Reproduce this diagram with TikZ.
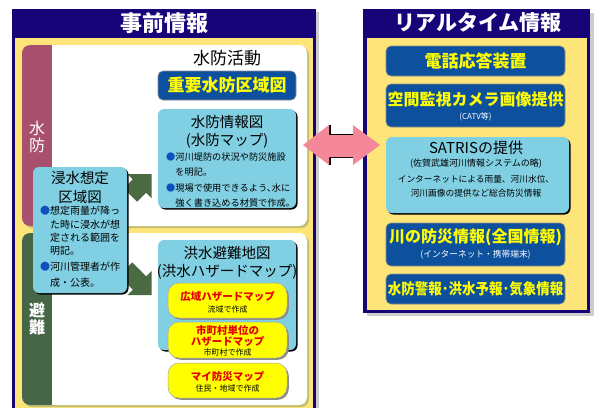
\documentclass[tikz,border=0pt]{standalone}
\usepackage{fontspec}
\setmainfont{Noto Sans CJK JP}
\usetikzlibrary{shadows}
\definecolor{navy}{RGB}{22,4,120}
\definecolor{pyellow}{RGB}{253,229,122}
\definecolor{oliveshd}{RGB}{196,190,112}
\definecolor{maroonstrip}{RGB}{168,80,110}
\definecolor{dgreen}{RGB}{70,102,72}
\definecolor{dblue}{RGB}{12,80,158}
\definecolor{lblue}{RGB}{128,207,226}
\definecolor{ytext}{RGB}{255,255,0}
\definecolor{rtext}{RGB}{230,0,0}
\definecolor{garrow}{RGB}{74,106,66}
\definecolor{pinkarr}{RGB}{244,136,152}
\definecolor{bulblue}{RGB}{16,80,190}
\definecolor{pshadow}{RGB}{205,205,205}
\newcommand{\fsz}[1]{\fontsize{#1}{#1}\selectfont}
\newcommand{\bul}{\textcolor{bulblue}{●}}
\begin{document}
\begin{tikzpicture}[x=1pt,y=-1pt,
  t/.style={inner sep=0pt},
  darkbox/.style={draw=black!45, line width=0.6pt, fill=dblue, rounded corners=5pt, inner sep=0pt},
  lightbox/.style={fill=lblue, rounded corners=6pt, inner sep=0pt,
    drop shadow={shadow xshift=1.5pt, shadow yshift=-1.5pt, fill=black, opacity=1}},
  pill/.style={fill=ytext, draw=black!35, line width=0.5pt, rounded corners=11pt, inner sep=0pt,
    drop shadow={shadow xshift=1.8pt, shadow yshift=-1.8pt, fill=black!45, opacity=1}},
  title/.style={t, text=white, font={\fsz{22}\bfseries}},
  ytxt/.style={t, text=ytext, font={\fsz{17}\bfseries}},
  wsmall/.style={t, text=white, font={\fsz{8.7}}},
  rtxt/.style={t, text=rtext, font={\fsz{10.5}\bfseries}},
  ksmall/.style={t, font={\fsz{8}}}
]
\useasboundingbox (0,0) rectangle (595,408);
\fill[white] (0,0) rectangle (595,408);

% ---------- left panel ----------
\fill[pshadow] (15,12) rectangle (319,408);
\fill[navy] (12,9) rectangle (316,408);
\fill[pyellow] (15,38) rectangle (313,408);
\node[title] (ltitle) at (164,23) {事前情報};

% top white panel
\fill[oliveshd, rounded corners=8pt] (24,47) rectangle (309,228);
\fill[white, rounded corners=8pt] (22,45) rectangle (307,226);
\fill[maroonstrip, rounded corners=8pt] (22,45) rectangle (62,226);
\fill[white] (52,45) rectangle (64,226);
\node[t, text=white, font={\fsz{16}}, align=center] (suibolabel) at (37,137) {水\\[1pt]防};

% bottom white panel
\fill[oliveshd, rounded corners=8pt] (24,235) rectangle (309,407);
\fill[white, rounded corners=8pt] (22,233) rectangle (307,405);
\fill[dgreen, rounded corners=8pt] (22,233) rectangle (62,405);
\fill[white] (52,233) rectangle (64,405);
\node[t, text=white, font={\fsz{16}\bfseries}, align=center] (hinanlabel) at (37,319) {避\\[1pt]難};

% top panel content
\node[t, font={\fsz{17}}] (katsudo) at (227,58) {水防活動};
\node[darkbox, minimum width=138pt, minimum height=29pt] (juyo) at (227,85.5) {};
\node[ytxt] (juyotxt) at (227,85.5) {重要水防区域図};

\node[lightbox, minimum width=138pt, minimum height=99pt] (suibomap) at (227,158.5) {};
\node[t, font={\fsz{14.5}}] (sm1) at (227,122) {水防情報図};
\node[t, font={\fsz{14.5}}] (sm2) at (227,141) {(水防マップ)};
\node[t, anchor=west, font={\fsz{9.2}}] (smb1) at (166,157) {\bul 河川堤防の状況や防災施設};
\node[t, anchor=west, font={\fsz{9.2}}] (smb2) at (175.2,172.5) {を明記。};
\node[t, anchor=west, font={\fsz{9.2}}] (smb3) at (166,188) {\bul 現場で使用できるよう､水に};
\node[t, anchor=west, font={\fsz{9.2}}] (smb4) at (175.2,203) {強く書き込める材質で作成。};

% bottom panel content
\node[lightbox, minimum width=138pt, minimum height=110pt] (kozuimap) at (227,295) {};
\node[t, font={\fsz{14.5}}] (km1) at (227,253) {洪水避難地図};
\node[t, font={\fsz{14.5}}] (km2) at (227,272) {(洪水ハザードマップ)};

\node[pill, minimum width=119pt, minimum height=35pt] (koiki) at (227.5,300.5) {};
\node[rtxt] (koiki1) at (227.5,296) {広域ハザードマップ};
\node[ksmall] (koiki2) at (227.5,309.5) {流域で作成};

\node[pill, minimum width=119pt, minimum height=36pt] (shicho) at (227.5,340) {};
\node[rtxt] (shicho1) at (227.5,330) {市町村単位の};
\node[rtxt] (shicho2) at (227.5,341.5) {ハザードマップ};
\node[ksmall] (shicho3) at (227.5,352) {市町村で作成};

\node[pill, minimum width=119pt, minimum height=35pt] (mybosai) at (227.5,380.5) {};
\node[rtxt] (mybosai1) at (227.5,376) {マイ防災マップ};
\node[ksmall] (mybosai2) at (227.5,388.5) {住民・地域で作成};

% green arrows
\fill[garrow] (151.5,174) -- (127.5,174) -- (132.8,179.3) -- (123.8,188.3) -- (137.2,201.7) -- (146.2,192.7) -- (151.5,198) -- cycle;
\fill[garrow] (151.5,295) -- (127.5,295) -- (132.8,289.7) -- (118.8,275.7) -- (132.2,262.3) -- (146.2,276.3) -- (151.5,271) -- cycle;

% left box
\node[lightbox, minimum width=94pt, minimum height=126pt] (shinsui) at (80,230) {};
\node[t, font={\fsz{14.5}}] (ss1) at (80,178) {浸水想定};
\node[t, font={\fsz{14.5}}] (ss2) at (80,197) {区域図};
\node[t, anchor=west, font={\fsz{10}}] (ssb1) at (40,211) {\bul 想定雨量が降っ};
\node[t, anchor=west, font={\fsz{10}}] (ssb2) at (50,224.5) {た時に浸水が想};
\node[t, anchor=west, font={\fsz{10}}] (ssb3) at (50,238) {定される範囲を};
\node[t, anchor=west, font={\fsz{10}}] (ssb4) at (50,251) {明記。};
\node[t, anchor=west, font={\fsz{10}}] (ssb5) at (40,266.5) {\bul 河川管理者が作};
\node[t, anchor=west, font={\fsz{10}}] (ssb6) at (50,282.5) {成・公表。};

% ---------- right panel ----------
\fill[pshadow] (367,13) rectangle (594,316);
\fill[navy] (363,9) rectangle (590,313);
\fill[pyellow] (367,38) rectangle (587,310);
\node[title, font={\fsz{21}\bfseries}] (rtitle) at (478,23) {リアルタイム情報};

\node[darkbox, minimum width=179pt, minimum height=30pt] (tel) at (475.5,61) {};
\node[ytxt] (teltxt) at (475.5,61) {電話応答装置};

\node[darkbox, minimum width=179pt, minimum height=43pt] (camera) at (475.5,105.5) {};
\node[ytxt, font={\fsz{16}\bfseries}] (camera1) at (475.5,99.5) {空間監視カメラ画像提供};
\node[wsmall, font={\fsz{8}}] (camera2) at (475.5,117) {(CATV等)};

\node[lightbox, minimum width=183pt, minimum height=76pt] (satris) at (477.5,175) {};
\node[t, font={\fsz{15}}] (sat1) at (476,148) {SATRISの提供};
\node[t, font={\fsz{9}}] (sat2) at (476,163.5) {(佐賀武雄河川情報システムの略)};
\node[t, font={\fsz{8.7}}] (sat3) at (476,179) {インターネットによる雨量、河川水位、};
\node[t, font={\fsz{8.7}}] (sat4) at (476,193) {河川画像の提供など総合防災情報};

\node[darkbox, minimum width=179pt, minimum height=43pt] (kawa) at (475.5,244.5) {};
\node[ytxt, font={\fsz{16}\bfseries}] (kawa1) at (475.5,237) {川の防災情報(全国情報)};
\node[wsmall] (kawa2) at (475.5,254.5) {(インターネット・携帯端末)};

\node[darkbox, minimum width=179pt, minimum height=30pt] (keiho) at (475.5,289) {};
\node[ytxt, font={\fsz{15}\bfseries}] (keihotxt) at (475.5,289) {\scalebox{0.9}[1]{水防警報･洪水予報･気象情報}};

% ---------- pink double arrow ----------
\draw[black, line width=1.4pt] (330,125) -- (330,134.3) -- (353,134.3);
\draw[black, line width=1.4pt] (330,165) -- (330,157.7) -- (353,157.7);
\fill[pinkarr] (303,145) -- (329,125) -- (329,135) -- (353,135) -- (353,125) -- (380,145)
  -- (353,165) -- (353,157) -- (329,157) -- (329,165) -- cycle;
\end{tikzpicture}
\end{document}
